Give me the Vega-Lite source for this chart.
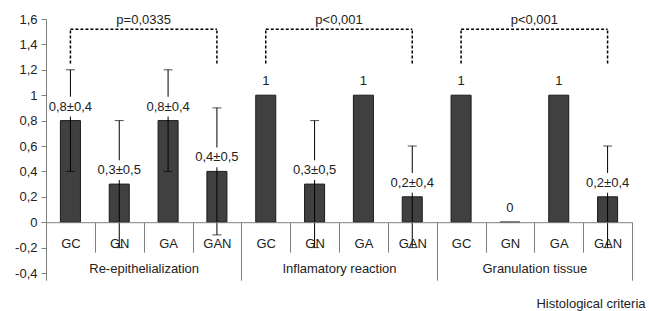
{
  "$schema": "https://vega.github.io/schema/vega-lite/v6.json",
  "width": 586,
  "height": 254,
  "autosize": {"type": "none"},
  "padding": {"left": 46, "top": 19, "right": 17, "bottom": 38},
  "config": {
    "font": "Liberation Sans",
    "view": {"stroke": null},
    "axis": {"labelFont": "Liberation Sans", "labelFontSize": 13, "labelColor": "#222", "domainColor": "#808080", "tickColor": "#808080", "grid": false, "zindex": 1}
  },
  "datasets": {
    "bars": [
      {"group": "Re-epithelialization", "id": "Re-epithelialization|GC", "mean": 0.8, "lo": 0.4, "hi": 1.2, "label": "0,8±0,4"},
      {"group": "Re-epithelialization", "id": "Re-epithelialization|GN", "mean": 0.3, "lo": -0.2, "hi": 0.8, "label": "0,3±0,5"},
      {"group": "Re-epithelialization", "id": "Re-epithelialization|GA", "mean": 0.8, "lo": 0.4, "hi": 1.2, "label": "0,8±0,4"},
      {"group": "Re-epithelialization", "id": "Re-epithelialization|GAN", "mean": 0.4, "lo": -0.1, "hi": 0.9, "label": "0,4±0,5"},
      {"group": "Inflamatory reaction", "id": "Inflamatory reaction|GC", "mean": 1, "lo": null, "hi": null, "label": "1"},
      {"group": "Inflamatory reaction", "id": "Inflamatory reaction|GN", "mean": 0.3, "lo": -0.2, "hi": 0.8, "label": "0,3±0,5"},
      {"group": "Inflamatory reaction", "id": "Inflamatory reaction|GA", "mean": 1, "lo": null, "hi": null, "label": "1"},
      {"group": "Inflamatory reaction", "id": "Inflamatory reaction|GAN", "mean": 0.2, "lo": -0.2, "hi": 0.6, "label": "0,2±0,4"},
      {"group": "Granulation tissue", "id": "Granulation tissue|GC", "mean": 1, "lo": null, "hi": null, "label": "1"},
      {"group": "Granulation tissue", "id": "Granulation tissue|GN", "mean": 0, "lo": null, "hi": null, "label": "0"},
      {"group": "Granulation tissue", "id": "Granulation tissue|GA", "mean": 1, "lo": null, "hi": null, "label": "1"},
      {"group": "Granulation tissue", "id": "Granulation tissue|GAN", "mean": 0.2, "lo": -0.2, "hi": 0.6, "label": "0,2±0,4"}
    ],
    "brackets": [
      {"left": "Re-epithelialization|GC", "right": "Re-epithelialization|GAN", "mid": "Re-epithelialization|GA", "top": 1.52, "bottom": 1.25, "ty": 1.59, "p": "p=0,0335"},
      {"left": "Inflamatory reaction|GC", "right": "Inflamatory reaction|GAN", "mid": "Inflamatory reaction|GA", "top": 1.52, "bottom": 1.25, "ty": 1.59, "p": "p<0,001"},
      {"left": "Granulation tissue|GC", "right": "Granulation tissue|GAN", "mid": "Granulation tissue|GA", "top": 1.52, "bottom": 1.25, "ty": 1.59, "p": "p<0,001"}
    ],
    "groups": [
      {"group": "Re-epithelialization"},
      {"group": "Inflamatory reaction"},
      {"group": "Granulation tissue"}
    ]
  },
  "layer": [
    {
      "layer": [
        {
          "data": {"name": "bars"},
          "mark": {"type": "bar", "fill": "#404040", "stroke": "#1a1a1a", "strokeWidth": 1, "width": {"band": 0.41}},
          "encoding": {
            "x": {
              "field": "id", "type": "nominal", "sort": null,
              "scale": {
                "domain": ["Re-epithelialization|GC", "Re-epithelialization|GN", "Re-epithelialization|GA", "Re-epithelialization|GAN", "Inflamatory reaction|GC", "Inflamatory reaction|GN", "Inflamatory reaction|GA", "Inflamatory reaction|GAN", "Granulation tissue|GC", "Granulation tissue|GN", "Granulation tissue|GA", "Granulation tissue|GAN"],
                "paddingInner": 0, "paddingOuter": 0
              },
              "axis": {
                "orient": "bottom", "offset": -50.8, "title": null, "tickSize": 30, "tickBand": "extent",
                "labelPadding": -9, "labelBaseline": "middle", "labelAngle": 0, "zindex": 1,
                "tickColor": "#808080", "domainColor": "#808080",
                "labelExpr": "split(datum.label, '|')[1]"
              }
            },
            "y": {
              "field": "mean", "type": "quantitative",
              "scale": {"domain": [-0.4, 1.6], "nice": false, "zero": false},
              "axis": {
                "title": null, "values": [-0.4, -0.2, 0, 0.2, 0.4, 0.6, 0.8, 1, 1.2, 1.4, 1.6],
                "tickCount": 20,
                "tickSize": 5, "labelPadding": 4, "labelOverlap": false, "zindex": 1,
                "ticks": true, "domain": true, "tickColor": "#808080", "domainColor": "#808080",
                "labelExpr": "replace(replace(format(datum.value, '.1~f'), '.', ','), '\u2212', '-')"
              }
            }
          }
        },
        {
          "data": {"name": "bars"},
          "transform": [{"filter": "datum.hi != null"}],
          "mark": {"type": "rule", "color": "#000", "strokeWidth": 1},
          "encoding": {
            "x": {"field": "id", "type": "nominal", "sort": null},
            "y": {"field": "lo", "type": "quantitative"},
            "y2": {"field": "hi"}
          }
        },
        {
          "data": {"name": "bars"},
          "transform": [{"filter": "datum.hi != null"}],
          "mark": {"type": "tick", "color": "#000", "size": 9, "thickness": 1, "orient": "horizontal"},
          "encoding": {
            "x": {"field": "id", "type": "nominal", "sort": null},
            "y": {"field": "hi", "type": "quantitative"}
          }
        },
        {
          "data": {"name": "bars"},
          "transform": [{"filter": "datum.hi != null"}],
          "mark": {"type": "tick", "color": "#000", "size": 9, "thickness": 1, "orient": "horizontal"},
          "encoding": {
            "x": {"field": "id", "type": "nominal", "sort": null},
            "y": {"field": "lo", "type": "quantitative"}
          }
        },
        {
          "data": {"name": "bars"},
          "transform": [{"filter": "datum.hi != null"}],
          "mark": {"type": "point", "shape": "M-1,-0.43H1V0.43H-1Z", "size": 2116, "filled": true, "fill": "white", "opacity": 1, "strokeWidth": 0, "yOffset": -14},
          "encoding": {
            "x": {"field": "id", "type": "nominal", "sort": null},
            "y": {"field": "mean", "type": "quantitative"}
          }
        },
        {
          "data": {"name": "bars"},
          "mark": {"type": "text", "fontSize": 13, "color": "#222", "baseline": "middle", "dy": -14},
          "encoding": {
            "x": {"field": "id", "type": "nominal", "sort": null},
            "y": {"field": "mean", "type": "quantitative"},
            "text": {"field": "label"}
          }
        },
        {
          "data": {"name": "brackets"},
          "mark": {"type": "rule", "color": "#000", "strokeWidth": 1.5, "strokeDash": [3, 2]},
          "encoding": {
            "x": {"field": "left", "type": "nominal"},
            "x2": {"field": "right"},
            "y": {"field": "top", "type": "quantitative"}
          }
        },
        {
          "data": {"name": "brackets"},
          "mark": {"type": "rule", "color": "#000", "strokeWidth": 1.5, "strokeDash": [3, 2]},
          "encoding": {
            "x": {"field": "left", "type": "nominal"},
            "y": {"field": "bottom", "type": "quantitative"},
            "y2": {"field": "top"}
          }
        },
        {
          "data": {"name": "brackets"},
          "mark": {"type": "rule", "color": "#000", "strokeWidth": 1.5, "strokeDash": [3, 2]},
          "encoding": {
            "x": {"field": "right", "type": "nominal"},
            "y": {"field": "bottom", "type": "quantitative"},
            "y2": {"field": "top"}
          }
        },
        {
          "data": {"name": "brackets"},
          "mark": {"type": "text", "fontSize": 13, "color": "#222", "baseline": "middle"},
          "encoding": {
            "x": {"field": "mid", "type": "nominal", "bandPosition": 0},
            "y": {"field": "ty", "type": "quantitative"},
            "text": {"field": "p"}
          }
        }
      ]
    },
    {
      "data": {"name": "groups"},
      "mark": {"type": "point", "opacity": 0},
      "encoding": {
        "x": {
          "field": "group", "type": "nominal", "sort": null,
          "scale": {"paddingInner": 0, "paddingOuter": 0},
          "axis": {
            "orient": "bottom", "offset": -50.8, "tickSize": 58, "tickBand": "extent", "domain": false,
            "labelPadding": -12, "labelBaseline": "middle", "labelAngle": 0, "labelFontSize": 13, "zindex": 1,
            "title": "Histological criteria", "titleX": 599, "titleY": 81, "titleAlign": "right",
            "titleBaseline": "middle", "titleFontWeight": "normal", "titleFontSize": 13, "titleColor": "#222",
            "titleFont": "Liberation Sans"
          }
        }
      }
    }
  ],
  "resolve": {"scale": {"x": "independent"}, "axis": {"x": "independent"}}
}
